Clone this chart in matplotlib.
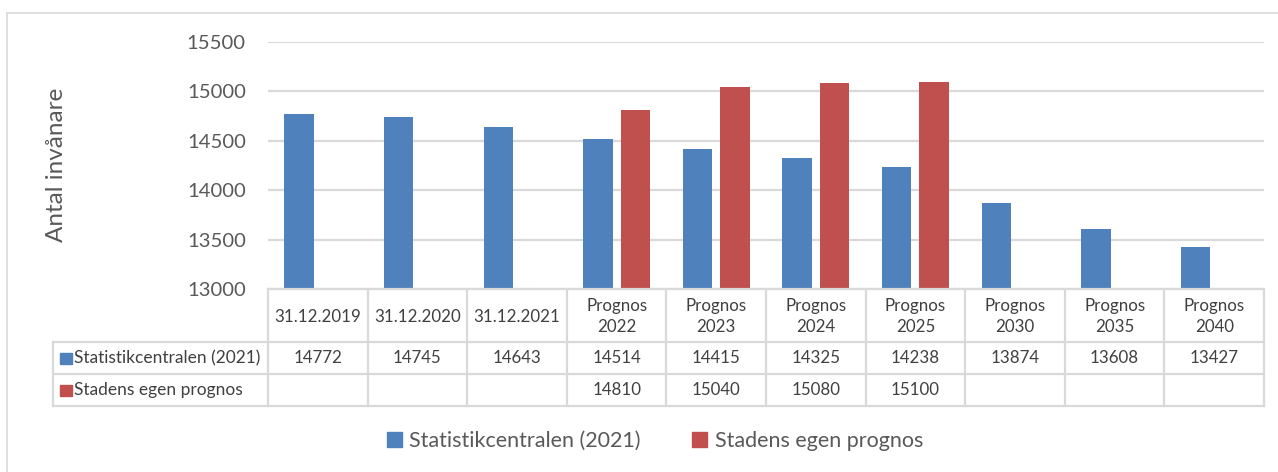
import numpy as np
import matplotlib.pyplot as plt
from matplotlib.patches import Rectangle

plt.rcParams["font.family"] = ["Lato", "DejaVu Sans"]

categories = ["31.12.2019", "31.12.2020", "31.12.2021", "Prognos\n2022", "Prognos\n2023",
              "Prognos\n2024", "Prognos\n2025", "Prognos\n2030", "Prognos\n2035", "Prognos\n2040"]
statistik = [14772, 14745, 14643, 14514, 14415, 14325, 14238, 13874, 13608, 13427]
stadens = [None, None, None, 14810, 15040, 15080, 15100, None, None, None]
series_names = ["Statistikcentralen (2021)", "Stadens egen prognos"]
yticks = [13000, 13500, 14000, 14500, 15000, 15500]

BLUE = "#4F81BD"
RED = "#C0504D"
GRID = "#D9D9D9"
TXT = "#595959"

W, H = 1278, 472
fig = plt.figure(figsize=(W / 100, H / 100), dpi=100)

# plottytan (pixlar: x 268-1264, y 42-289)
ax = fig.add_axes([268 / W, 1 - 289 / H, 996 / W, 247 / H])
x = np.arange(len(categories))
bw = 0.295
off = 0.188
blue_y = np.array(statistik, dtype=float)
red_y = np.array([np.nan if v is None else v for v in stadens], dtype=float)
ax.bar(x - off, blue_y - 13000, bw, bottom=13000, color=BLUE, zorder=3)
ax.bar(x + off, red_y - 13000, bw, bottom=13000, color=RED, zorder=3)
ax.set_xlim(-0.5, len(categories) - 0.5)
ax.set_ylim(13000, 15500)
ax.set_yticks(yticks)
ax.set_yticklabels([str(t) for t in yticks], fontsize=14.6, color=TXT)
ax.tick_params(axis="y", length=0, pad=16)
ax.set_xticks([])
ax.grid(axis="y", color=GRID, lw=1.6, zorder=0)
for s in ax.spines.values():
    s.set_visible(False)
fig.text(57 / W, 1 - 165 / H, "Antal invånare", rotation=90, ha="center", va="center",
         fontsize=17.5, color=TXT)

# datatabell under axeln
tax = fig.add_axes([268 / W, 1 - 406 / H, 996 / W, 117 / H])
tax.set_xlim(-0.5, len(categories) - 0.5)
tax.set_ylim(117, 0)
tax.axis("off")
rows = [0, 53, 85, 117]
left = -0.5 - 215 / 99.6
n = len(categories)
lk = dict(color=GRID, lw=1.6, clip_on=False)
tax.plot([-0.5, n - 0.5], [rows[0], rows[0]], **lk)
for r in rows[1:]:
    tax.plot([left, n - 0.5], [r, r], **lk)
for k in range(n + 1):
    tax.plot([k - 0.5, k - 0.5], [rows[0], rows[3]], **lk)
tax.plot([left, left], [rows[1], rows[3]], **lk)

tk = dict(ha="center", va="center", fontsize=12.2, color="#404040", linespacing=1.35)
for i, c in enumerate(categories):
    tax.text(i, (rows[0] + rows[1]) / 2 + 1, c, **tk)
    tax.text(i, (rows[1] + rows[2]) / 2, str(statistik[i]), **tk)
    if stadens[i] is not None:
        tax.text(i, (rows[2] + rows[3]) / 2, str(stadens[i]), **tk)

sq = 12 / 99.6
for j, (name, col) in enumerate(zip(series_names, [BLUE, RED])):
    yc = (rows[1 + j] + rows[2 + j]) / 2
    tax.add_patch(Rectangle((left + 7 / 99.6, yc - 5.5), sq, 11, color=col, clip_on=False))
    tax.text(left + 21 / 99.6, yc, name, ha="left", va="center", fontsize=12.5, color="#404040")

# förklaring
handles = [Rectangle((0, 0), 1, 1, color=BLUE), Rectangle((0, 0), 1, 1, color=RED)]
leg = fig.legend(handles, series_names, loc="center", bbox_to_anchor=(655 / W, 1 - 441 / H),
                 ncol=2, frameon=False, fontsize=15.5, handlelength=0.7, handleheight=0.7,
                 handletextpad=0.35, columnspacing=2.4)
for t in leg.get_texts():
    t.set_color(TXT)

# ram runt diagrammet
fig.add_artist(plt.Line2D([7 / W, 1], [1 - 13 / H, 1 - 13 / H], color=GRID, lw=1.2))
fig.add_artist(plt.Line2D([7 / W, 7 / W], [0, 1 - 13 / H], color=GRID, lw=1.2))

fig.savefig("out.png", dpi=100)
